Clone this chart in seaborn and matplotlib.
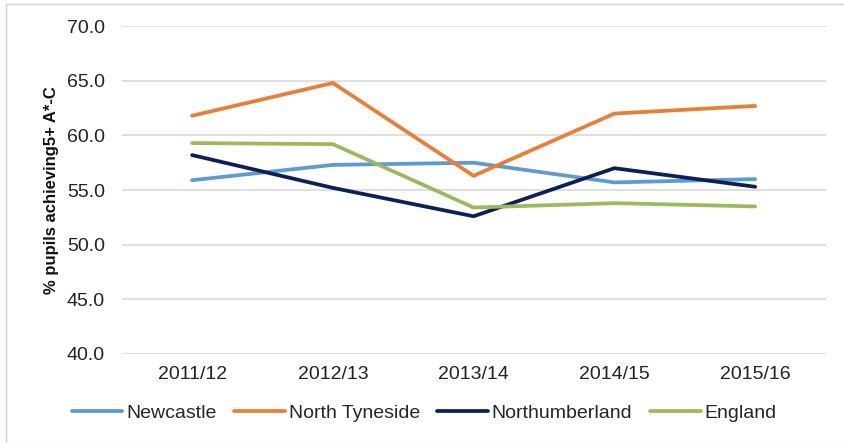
import matplotlib
matplotlib.use("Agg")
import matplotlib.pyplot as plt
import seaborn as sns
import pandas as pd
from matplotlib.patches import Rectangle

years = ["2011/12", "2012/13", "2013/14", "2014/15", "2015/16"]
newcastle = [55.9, 57.3, 57.5, 55.7, 56.0]
north_tyneside = [61.8, 64.8, 56.3, 62.0, 62.7]
northumberland = [58.2, 55.2, 52.6, 57.0, 55.3]
england = [59.3, 59.2, 53.4, 53.8, 53.5]
series_names = ["Newcastle", "North Tyneside", "Northumberland", "England"]
colors = ["#5B9BD5", "#ED7D31", "#0A1F5C", "#9BBB59"]

rows = []
for name, vals in zip(series_names, [newcastle, north_tyneside, northumberland, england]):
    for i, (yr, v) in enumerate(zip(years, vals)):
        rows.append({"idx": i, "Year": yr, "Value": v, "Area": name})
df = pd.DataFrame(rows)

sns.set_theme(style="white")
plt.rcParams["font.family"] = ["Liberation Sans", "DejaVu Sans"]

fig = plt.figure(figsize=(8.45, 4.43), dpi=100)
ax = fig.add_axes([0.144, 0.201, 0.833, 0.740])

sns.lineplot(data=df, x="idx", y="Value", hue="Area", hue_order=series_names,
             palette=colors, linewidth=2.7, sort=False, ax=ax, legend=True)

ax.set_xlim(-0.5, 4.5)
ax.set_ylim(40, 70)
ax.set_xticks(range(len(years)))
ax.set_xticklabels(years, fontsize=14, color="#222222")
yt = [40, 45, 50, 55, 60, 65, 70]
ax.set_yticks(yt)
ax.set_yticklabels([f"{v:.1f}" for v in yt], fontsize=14, color="#222222")
ax.tick_params(axis="y", length=0, pad=12)
ax.tick_params(axis="x", length=0, pad=9)
ax.yaxis.grid(True, color="#D9D9D9", linewidth=1.2)
ax.set_axisbelow(True)
for s in ["top", "right", "left", "bottom"]:
    ax.spines[s].set_visible(False)
ax.set_xlabel("")
ax.set_ylabel("% pupils achieving5+ A*-C", fontsize=12, fontweight="bold",
              color="#111111", labelpad=6)

handles, labels = ax.get_legend_handles_labels()
ax.get_legend().remove()
fig.legend(handles, labels, loc="center", bbox_to_anchor=(0.502, 0.068), ncol=4,
           frameon=False, fontsize=14, handlelength=2.6, handletextpad=0.2,
           columnspacing=0.9)

fig.patches.append(Rectangle((6 / 845, 0.0), 1.0, 1 - 4 / 443, transform=fig.transFigure,
                             fill=False, edgecolor="#D0D0D0", linewidth=1))

fig.savefig("out.png", dpi=100)
